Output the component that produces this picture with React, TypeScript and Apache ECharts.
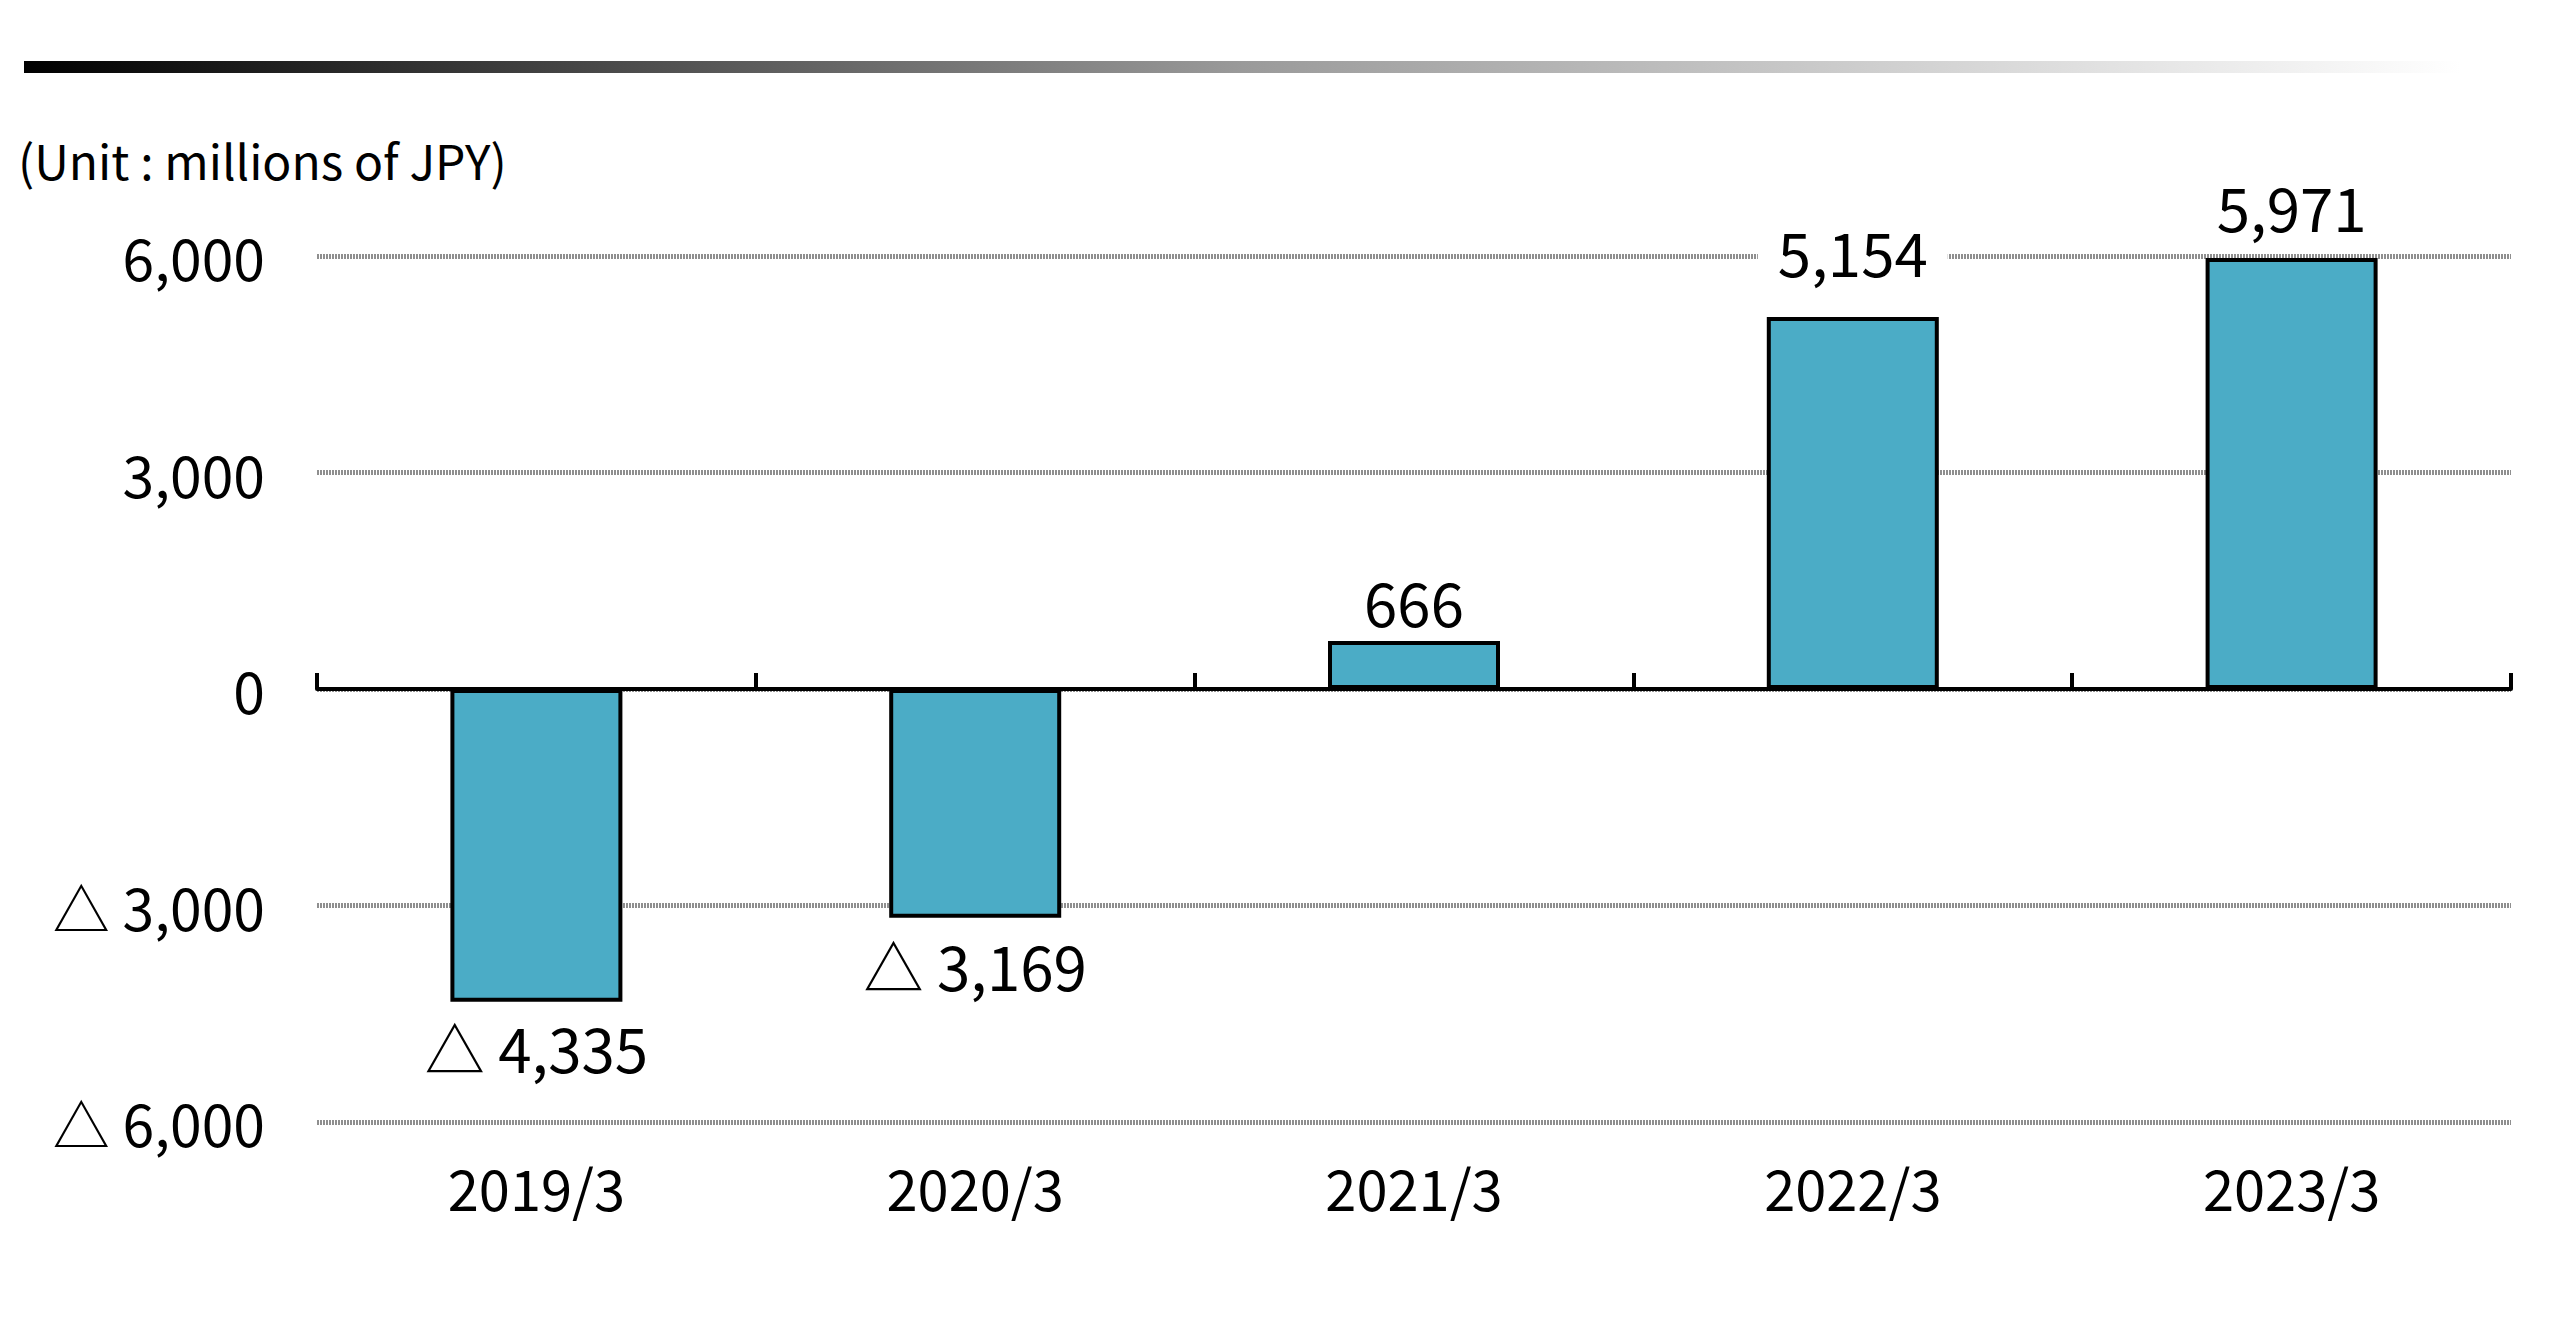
import React, { useEffect, useRef } from "react";
import * as echarts from "echarts";

const categories = ["2019/3", "2020/3", "2021/3", "2022/3", "2023/3"];
const values = [-4335, -3169, 666, 5154, 5971];
const yTicks = { min: -6000, max: 6000, interval: 3000 };
const unitText = "(Unit : millions of JPY)";

// label gap from bar end, per bar (styling, as placed in the original)
const labelGaps = [15, 17, 10, 37, 23];

const FONT = "'Noto Sans CJK JP', 'Noto Sans', sans-serif";

function fmt(v: number): string {
  const s = Math.abs(v).toLocaleString("en-US");
  return v < 0 ? "△ " + s : s;
}

export default function App() {
  const ref = useRef<HTMLDivElement>(null);
  useEffect(() => {
    if (!ref.current) return;
    const chart = echarts.init(ref.current, null, { renderer: "svg" });
    chart.setOption({
      animation: false,
      backgroundColor: "#ffffff",
      textStyle: { fontFamily: FONT },
      grid: { left: 317, right: 62, top: 256, bottom: 201, containLabel: false },
      graphic: [
        {
          type: "rect",
          left: 24,
          top: 61,
          shape: { width: 2437, height: 12 },
          style: {
            fill: new echarts.graphic.LinearGradient(0, 0, 1, 0, [
              { offset: 0, color: "#000000" },
              { offset: 0.5, color: "#9a9a9a" },
              { offset: 1, color: "#ffffff" },
            ]),
          },
        },
        {
          type: "text",
          left: 18,
          top: 135,
          style: { text: unitText, font: `48px ${FONT}`, fill: "#000" },
        },
      ],
      xAxis: [
        {
          type: "category",
          data: categories,
          position: "top",
          axisLine: { onZero: true, lineStyle: { color: "#000", width: 4 } },
          axisTick: { show: true, inside: false, length: 16, lineStyle: { color: "#000", width: 4 } },
          axisLabel: { show: false },
          splitLine: { show: false },
          z: 5,
        },
        {
          type: "category",
          data: categories,
          position: "bottom",
          axisLine: { show: false, onZero: false },
          axisTick: { show: false },
          axisLabel: { fontSize: 56, color: "#000", margin: 36, fontFamily: FONT },
          splitLine: { show: false },
        },
      ],
      yAxis: {
        type: "value",
        min: yTicks.min,
        max: yTicks.max,
        interval: yTicks.interval,
        axisLine: { show: false },
        axisTick: { show: false },
        axisLabel: {
          fontSize: 57,
          color: "#000",
          margin: 52,
          fontFamily: FONT,
          formatter: (v: number) => fmt(v),
        },
        splitLine: { lineStyle: { color: "#8f8f8f", width: 5, type: [2, 1] } },
      },
      series: [
        {
          type: "bar",
          xAxisIndex: 0,
          barWidth: 172,
          data: values.map((v, i) => ({
            value: v,
            label: { position: v < 0 ? "bottom" : "top", distance: labelGaps[i] },
          })),
          itemStyle: { color: "#4BACC6", borderColor: "#000", borderWidth: 4 },
          label: {
            show: true,
            fontSize: 60,
            lineHeight: 60,
            color: "#000",
            fontFamily: FONT,
            backgroundColor: "#fff",
            padding: [0, 20],
            formatter: (p: any) => fmt(p.value),
          },
        },
      ],
    });
    return () => chart.dispose();
  }, []);
  return (
    <div
      ref={ref}
      style={{ position: "fixed", left: 0, top: 0, width: 2573, height: 1323 }}
    />
  );
}
